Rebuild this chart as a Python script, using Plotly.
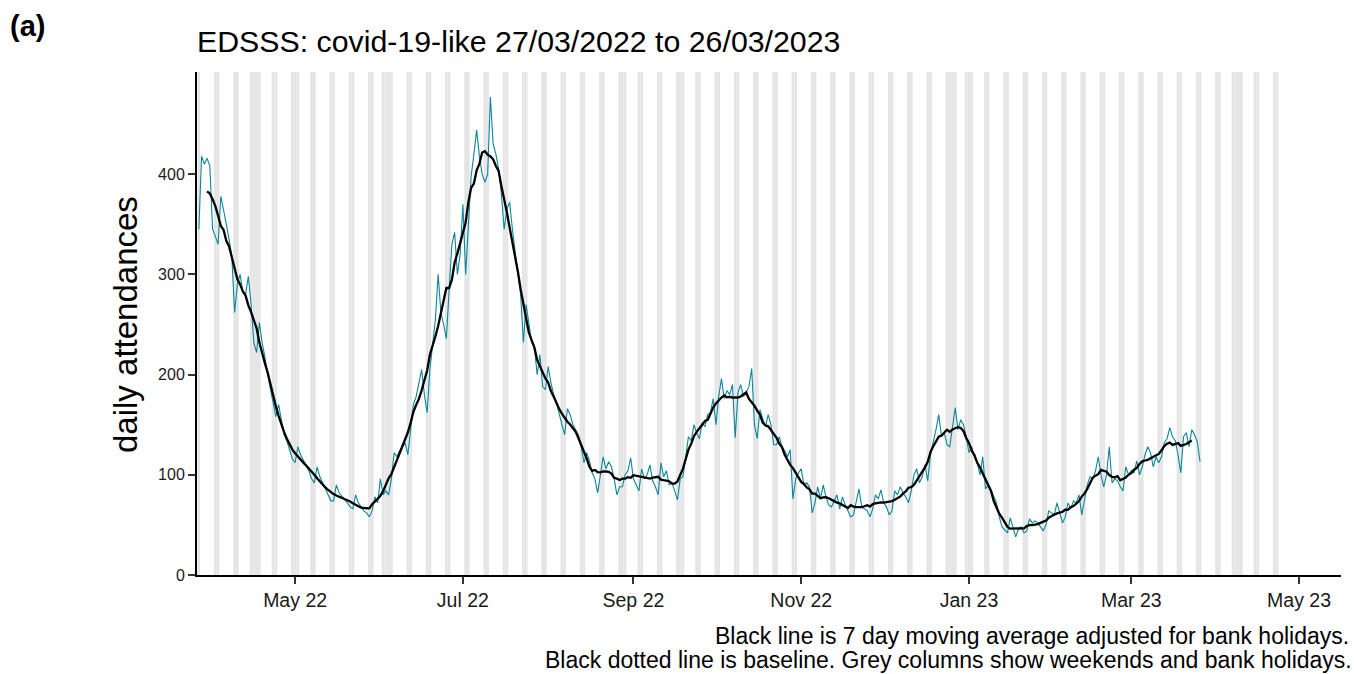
import pandas as pd
import plotly.graph_objects as go

# ---- data ----
start_date = "2022-03-27"
daily_attendances = [
    345, 418, 410, 416, 408, 345, 338,
    330, 378, 362, 350, 335, 318, 262,
    290, 300, 282, 280, 298, 270, 232,
    222, 252, 232, 218, 200, 186, 170,
    158, 170, 154, 140, 134, 126, 116,
    112, 128, 120, 115, 110, 104, 96,
    92, 108, 98, 92, 86, 80, 74,
    74, 90, 82, 79, 76, 72, 68,
    66, 80, 72, 68, 64, 62, 58,
    64, 78, 72, 96, 80, 84, 80,
    96, 122, 118, 124, 128, 132, 120,
    145, 170, 178, 190, 205, 180, 162,
    205, 232, 255, 300, 262, 250, 236,
    285, 330, 342, 300, 320, 370, 300,
    355, 398, 420, 444, 418, 400, 392,
    400, 477, 430, 420, 405, 380, 345,
    365, 372, 345, 320, 300, 280, 232,
    270, 250, 232, 228, 200, 220, 188,
    185, 208, 192, 180, 172, 160, 150,
    140, 166, 160, 150, 145, 140, 128,
    112, 122, 114, 102, 96, 82, 100,
    118, 106, 113, 108, 96, 80, 88,
    88, 100, 104, 117, 96, 90, 84,
    106, 96, 100, 110, 94, 88, 80,
    112, 98, 104, 90, 92, 84, 75,
    96, 98, 118, 138, 134, 150, 142,
    136, 152, 148, 160, 162, 176, 150,
    178, 196, 176, 184, 180, 190, 137,
    182, 190, 178, 182, 188, 206, 150,
    136, 165, 156, 148, 160, 150, 130,
    130, 138, 128, 124, 118, 125, 76,
    96, 102, 106, 90, 92, 88, 62,
    72, 88, 76, 90, 78, 70, 68,
    74, 80, 66, 78, 70, 64, 58,
    60, 72, 86, 68, 66, 64, 58,
    66, 80, 76, 85, 72, 68, 60,
    64, 84, 80, 88, 82, 78, 72,
    84, 100, 106, 92, 98, 110, 94,
    120, 132, 145, 160, 138, 142, 130,
    128, 150, 167, 145, 155, 150, 138,
    122, 128, 118, 112, 100, 118, 86,
    90, 85, 78, 72, 58, 48, 45,
    42, 57, 48, 38, 46, 48, 42,
    44, 56, 52, 54, 52, 48, 44,
    50, 64, 62, 60, 72, 62, 52,
    58, 72, 66, 74, 72, 80, 60,
    74, 90, 98, 96, 104, 118, 100,
    88, 100, 128, 92, 96, 94, 88,
    84, 108, 100, 104, 102, 114, 100,
    108, 120, 128, 122, 108, 118, 112,
    118, 132, 136, 147, 138, 134, 120,
    102, 138, 142, 128, 145, 140, 133,
    113,
]
bank_holidays = [
    "2022-04-15", "2022-04-18", "2022-05-02", "2022-06-02", "2022-06-03",
    "2022-08-29", "2022-09-19", "2022-12-26", "2022-12-27", "2023-01-02",
    "2023-04-07", "2023-04-10",
]
shading_end = "2023-04-23"
x_tick_dates = ["2022-05-01", "2022-07-01", "2022-09-01", "2022-11-01",
                "2023-01-01", "2023-03-01", "2023-05-01"]
x_tick_labels = ["May 22", "Jul 22", "Sep 22", "Nov 22", "Jan 23", "Mar 23", "May 23"]
y_tick_vals = [0, 100, 200, 300, 400]

# ---- derived ----
dates = pd.date_range(start_date, periods=len(daily_attendances), freq="D")
series = pd.Series(daily_attendances, index=dates)
moving_avg = series.rolling(7, center=True).mean()

all_days = pd.date_range(start_date, shading_end, freq="D")
grey_days = [d for d in all_days if d.weekday() >= 5 or d.strftime("%Y-%m-%d") in bank_holidays]

half = pd.Timedelta(hours=12)
shapes = [
    dict(type="rect", xref="x", yref="paper", x0=d - half, x1=d + half, y0=0, y1=1,
         fillcolor="#e5e5e5", line=dict(width=0), layer="below")
    for d in grey_days
]

# ---- layout geometry (pixels) ----
W, H = 1354, 674
L, R, T, B = 197, 1341, 72, 575
pw, ph = R - L, B - T


def px_x(x):
    return (x - L) / pw


def px_y(y):
    return (B - y) / ph


FONT = "Liberation Sans, Arial, sans-serif"

fig = go.Figure()
fig.add_trace(go.Scatter(x=dates, y=series.values, mode="lines",
                         line=dict(color="#0b869b", width=1.1), showlegend=False))
fig.add_trace(go.Scatter(x=dates, y=moving_avg.values, mode="lines",
                         line=dict(color="black", width=2.3), showlegend=False))

fig.update_layout(
    width=W, height=H,
    margin=dict(l=L, r=W - R, t=T, b=H - B, autoexpand=False),
    paper_bgcolor="white", plot_bgcolor="white",
    font=dict(family=FONT, color="black"),
    shapes=shapes,
    xaxis=dict(
        range=["2022-03-26 08:00", "2023-05-16 06:00"],
        tickvals=x_tick_dates, ticktext=x_tick_labels,
        showgrid=False, zeroline=False, automargin=False,
        showline=True, linecolor="black", linewidth=2,
        ticks="outside", ticklen=7, tickwidth=1.8, tickcolor="#333333",
        tickfont=dict(size=19.5, color="#1a1a1a"),
    ),
    yaxis=dict(
        range=[0, 502],
        tickvals=y_tick_vals,
        showgrid=False, zeroline=False, automargin=False,
        showline=True, linecolor="black", linewidth=2,
        ticks="outside", ticklen=7, tickwidth=1.8, tickcolor="#333333",
        tickfont=dict(size=16, color="#1a1a1a"),
    ),
    annotations=[
        dict(text="daily attendances", xref="paper", yref="paper",
             x=px_x(125), y=px_y(325), xanchor="center", yanchor="middle",
             textangle=-90, showarrow=False,
             font=dict(size=33, color="black", family=FONT)),
        dict(text="<b>(a)</b>", xref="paper", yref="paper", x=px_x(27), y=px_y(26),
             xanchor="center", yanchor="middle", showarrow=False,
             font=dict(size=29, color="black", family=FONT)),
        dict(text="EDSSS: covid-19-like 27/03/2022 to 26/03/2023",
             xref="paper", yref="paper", x=px_x(195), y=px_y(42),
             xanchor="left", yanchor="middle",
             showarrow=False, font=dict(size=30.3, color="black", family=FONT)),
        dict(text="Black line is 7 day moving average adjusted for bank holidays.",
             xref="paper", yref="paper", x=px_x(1351), y=px_y(636),
             xanchor="right", yanchor="middle",
             showarrow=False, font=dict(size=23, color="black", family=FONT)),
        dict(text="Black dotted line is baseline. Grey columns show weekends and bank holidays.",
             xref="paper", yref="paper", x=px_x(1354), y=px_y(660),
             xanchor="right", yanchor="middle",
             showarrow=False, font=dict(size=23, color="black", family=FONT)),
    ],
)

fig.write_html("out.html", config={"displayModeBar": False},
               post_script="document.body.style.margin='0';")
